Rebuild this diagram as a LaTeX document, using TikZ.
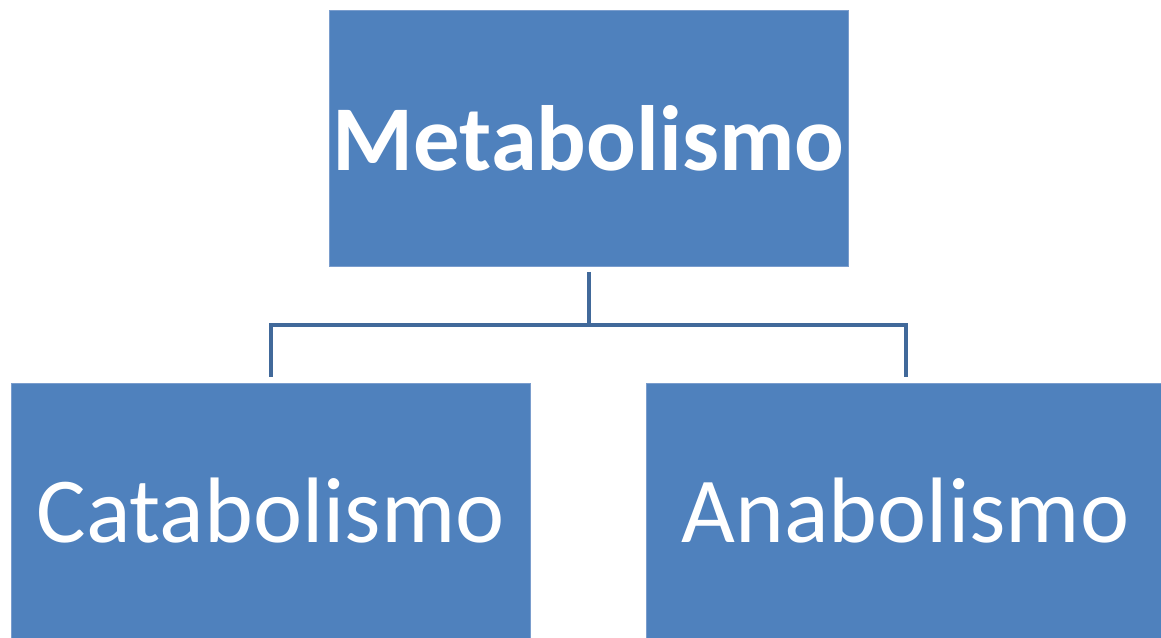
\documentclass[tikz,border=0pt]{standalone}
\usepackage{fontspec}
\setmainfont{Carlito}
\definecolor{boxblue}{RGB}{79,129,189}
\definecolor{boxedge}{RGB}{122,157,205}
\definecolor{linkblue}{RGB}{65,105,154}
\begin{document}
\begin{tikzpicture}[x=1pt, y=-1pt,
  box/.style={draw=boxedge, line width=0.8pt, fill=boxblue, text=white,
              minimum width=519pt, minimum height=256pt, inner sep=0pt,
              font=\fontsize{93}{110}\selectfont},
  link/.style={draw=linkblue, line width=4pt}
]
  \useasboundingbox (0,0) rectangle (1161,637);
  \clip (0,0) rectangle (1161,637);
  \node[box, font=\fontsize{92.7}{110}\selectfont\bfseries] (meta) at (588.5,138.5) {Metabolismo};
  \node[box] (cata) at (270.5,511) {Catabolismo};
  \node[box] (ana)  at (905.5,511) {Anabolismo};
  \coordinate (fork) at (588.5,325);

  \draw[link] ([yshift=-5pt]meta.south) -- (fork);
  \draw[link] ([yshift=6pt]cata.north) |- (fork) -| ([yshift=6pt]ana.north);
\end{tikzpicture}
\end{document}
